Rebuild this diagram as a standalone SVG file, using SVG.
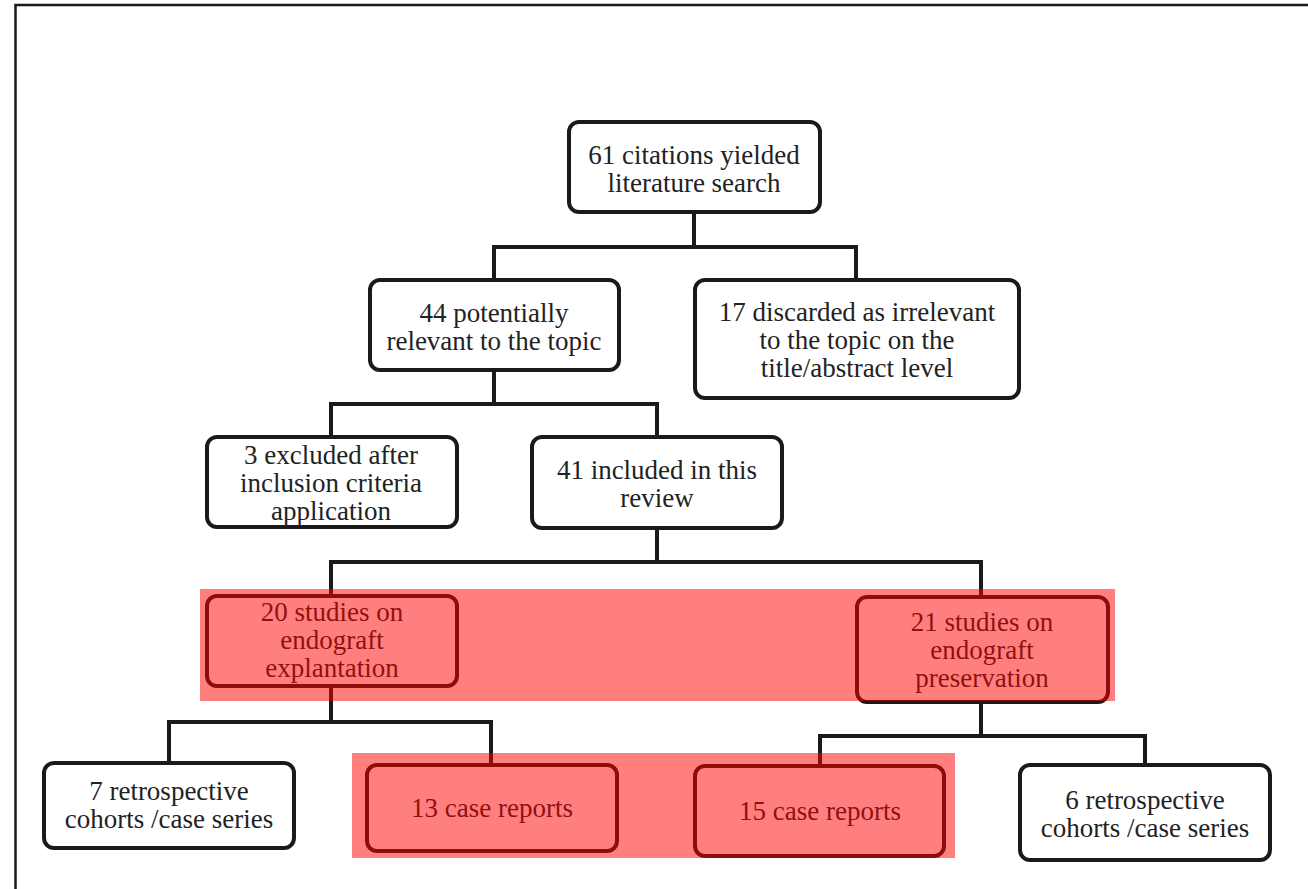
<svg xmlns="http://www.w3.org/2000/svg" width="1308" height="889" viewBox="0 0 1308 889">
<style>
.box{fill:#fff;stroke:#1a1a1a;stroke-width:4;}
.t{font-family:"Liberation Serif","Times New Roman",serif;font-size:27px;fill:#222;text-anchor:middle;}
.c{fill:none;stroke:#1a1a1a;stroke-width:4;stroke-linejoin:miter;}
.hl{fill:#ff0000;fill-opacity:0.5;}
</style>
<rect x="0" y="0" width="1308" height="889" fill="#fff"/>
<path d="M15.5,889 V5 H1308" fill="none" stroke="#1a1a1a" stroke-width="2.5"/>
<g id="connectors">
<path class="c" d="M694,213 V247 M494,280 V247 H856 V280"/>
<path class="c" d="M494,371 V404 M331,437 V404 H657 V437"/>
<path class="c" d="M657,528 V562 M331,596 V562 H981 V597"/>
<path class="c" d="M331,686 V722 M169,763 V722 H491 V765"/>
<path class="c" d="M981,703 V736 M820,766 V736 H1145 V764"/>
</g>
<g id="n1"><rect class="box" x="569" y="122" width="251" height="90" rx="10"/>
<text class="t" x="694" y="164">61 citations yielded</text><text class="t" x="694" y="192">literature search</text></g>
<g id="n2"><rect class="box" x="370" y="280" width="249" height="90" rx="10"/>
<text class="t" x="494" y="322">44 potentially</text><text class="t" x="494" y="350">relevant to the topic</text></g>
<g id="n3"><rect class="box" x="695" y="280" width="324" height="118" rx="10"/>
<text class="t" x="857" y="321">17 discarded as irrelevant</text><text class="t" x="857" y="349">to the topic on the</text><text class="t" x="857" y="377">title/abstract level</text></g>
<g id="n4"><rect class="box" x="207" y="437" width="250" height="90" rx="10"/>
<text class="t" x="331" y="464">3 excluded after</text><text class="t" x="331" y="492">inclusion criteria</text><text class="t" x="331" y="520">application</text></g>
<g id="n5"><rect class="box" x="532" y="437" width="250" height="91" rx="10"/>
<text class="t" x="657" y="479">41 included in this</text><text class="t" x="657" y="507">review</text></g>
<g id="n6"><rect class="box" x="207" y="596" width="250" height="90" rx="10"/>
<text class="t" x="332" y="621">20 studies on</text><text class="t" x="332" y="649">endograft</text><text class="t" x="332" y="677">explantation</text></g>
<g id="n7"><rect class="box" x="857" y="597" width="251" height="105" rx="10"/>
<text class="t" x="982" y="631">21 studies on</text><text class="t" x="982" y="659">endograft</text><text class="t" x="982" y="687">preservation</text></g>
<g id="n8"><rect class="box" x="44" y="763" width="250" height="85" rx="10"/>
<text class="t" x="169" y="800">7 retrospective</text><text class="t" x="169" y="828">cohorts /case series</text></g>
<g id="n9"><rect class="box" x="367" y="765" width="250" height="86" rx="10"/>
<text class="t" x="492" y="817">13 case reports</text></g>
<g id="n10"><rect class="box" x="695" y="766" width="249" height="90" rx="10"/>
<text class="t" x="820" y="820">15 case reports</text></g>
<g id="n11"><rect class="box" x="1020" y="765" width="250" height="95" rx="10"/>
<text class="t" x="1145" y="809">6 retrospective</text><text class="t" x="1145" y="837">cohorts /case series</text></g>
<g id="highlights">
<rect class="hl" x="200" y="589" width="915" height="112"/>
<rect class="hl" x="352" y="753" width="603" height="105"/>
</g>
</svg>
